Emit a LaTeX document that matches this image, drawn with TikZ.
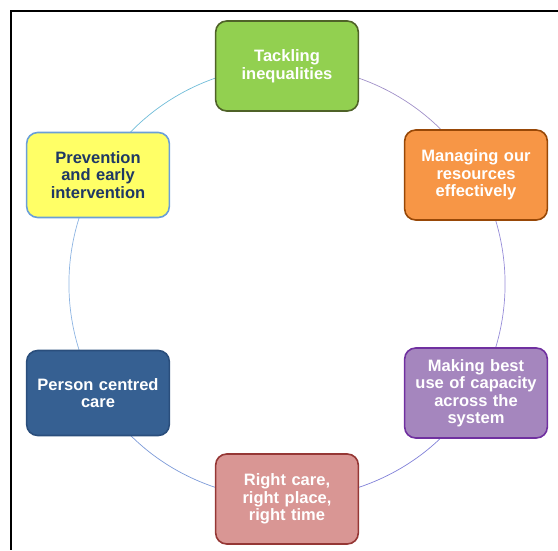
\documentclass[tikz,border=0pt]{standalone}
\usepackage{fontspec}
\setmainfont{Liberation Sans}
\usetikzlibrary{positioning,calc,backgrounds}
\definecolor{tackfill}{HTML}{92D050}
\definecolor{tackline}{HTML}{4F6228}
\definecolor{mgfill}{HTML}{F79646}
\definecolor{mgline}{HTML}{984807}
\definecolor{capfill}{HTML}{A586BE}
\definecolor{capline}{HTML}{7030A0}
\definecolor{rcfill}{HTML}{D99694}
\definecolor{rcline}{HTML}{953735}
\definecolor{pcfill}{HTML}{366092}
\definecolor{pcline}{HTML}{2A4E7C}
\definecolor{prfill}{HTML}{FFFF66}
\definecolor{prline}{HTML}{6A9FD8}
\definecolor{prtext}{HTML}{1F3864}
\definecolor{ringa}{HTML}{A090C8}
\definecolor{ringb}{HTML}{968CD8}
\definecolor{ringc}{HTML}{8080D8}
\definecolor{ringd}{HTML}{7C9AD8}
\definecolor{ringe}{HTML}{8DB4E2}
\definecolor{ringf}{HTML}{6FBCD8}
\tikzset{
  aim/.style={draw, rounded corners=11pt, line width=1.6pt, minimum width=140pt,
    minimum height=90pt, align=center, text width=136pt, text=white,
    font=\fontsize{16.5}{17.5}\selectfont\bfseries},
  ring/.style={line width=0.7pt, looseness=0.912}
}
\begin{document}
\begin{tikzpicture}[x=1pt,y=1pt]
        \useasboundingbox (0,0) rectangle (558,550);
        %frame
        \draw[line width=1.8pt] (558,539) -- (11,539) -- (11,0);
        %nodes
        \node[aim, fill=tackfill, draw=tackline] (tack) at (287,484) {Tackling\\inequalities\\[17.5pt]};
        \node[aim, fill=mgfill, draw=mgline] (manage) at (476,375) {Managing our\\resources\\effectively};
        \node[aim, fill=capfill, draw=capline] (cap) at (476,157) {Making best\\use of capacity\\across the\\system};
        \node[aim, fill=rcfill, draw=rcline] (right) at (287,51) {Right care,\\right place,\\right time};
        \node[aim, fill=pcfill, draw=pcline, minimum height=85pt] (person) at (98,157) {Person centred\\care\\[4pt]};
        \node[aim, fill=prfill, draw=prline, text=prtext, minimum height=85pt] (prev) at (98,375) {Prevention\\and early\\intervention};
        %ring
        \begin{scope}[on background layer]
        \path [draw=ringa, ring] (tack.center) to[out=0, in=120] (manage.center);
        \path [draw=ringb, ring] (manage.center) to[out=-60, in=60] (cap.center);
        \path [draw=ringc, ring] (cap.center) to[out=-120, in=0] (right.center);
        \path [draw=ringd, ring] (right.center) to[out=180, in=-60] (person.center);
        \path [draw=ringe, ring] (person.center) to[out=120, in=-120] (prev.center);
        \path [draw=ringf, ring] (prev.center) to[out=60, in=180] (tack.center);
        \end{scope}
      \end{tikzpicture}
\end{document}
